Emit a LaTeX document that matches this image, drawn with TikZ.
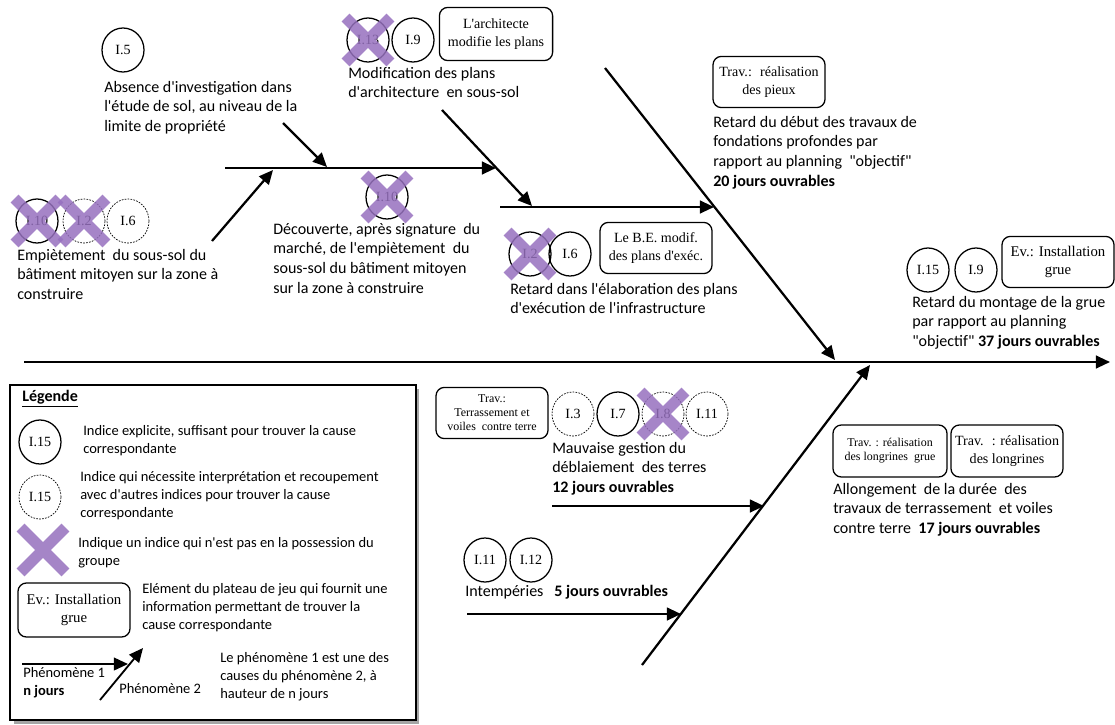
\documentclass[tikz,border=0pt]{standalone}
\usepackage{fontspec}
\setmainfont{Carlito}[Ligatures=TeXOff]
\newfontfamily\timesfont{Liberation Serif}
\usetikzlibrary{arrows.meta,shapes.geometric,shapes.misc}
\definecolor{crosspurple}{RGB}{150,112,190}

\begin{document}
\begin{tikzpicture}[x=0.025cm, y=-0.025cm,
        bone/.style={line width=1.6pt, -{Triangle[length=10pt, width=9pt]}},
        clue/.style={ellipse, draw, line width=0.9pt, minimum width=1.05cm, minimum height=1.1cm, inner sep=0pt, font=\timesfont\fontsize{10}{12}\selectfont},
        hint/.style={clue, line width=0.5pt, dash pattern=on 1.2pt off 0.9pt},
        missing/.style={cross out, draw=crosspurple, draw opacity=0.85, line width=8pt, minimum size=0.84cm, inner sep=0pt},
        card/.style={draw, rounded corners=6pt, line width=0.9pt, align=center, inner sep=1pt, minimum width=2.8cm, minimum height=1.28cm, font=\timesfont\fontsize{10}{12.5}\selectfont},
        small card/.style={card, font=\timesfont\fontsize{8.5}{10}\selectfont},
        cause/.style={align=left, anchor=north west, inner sep=0pt, font=\fontsize{11.4}{13.9}\selectfont},
        legend text/.style={align=left, anchor=north west, inner sep=0pt, font=\fontsize{10.3}{12.8}\selectfont}]

        \useasboundingbox (0, 0) rectangle (1115, 724);

        \coordinate (spine-s) at (24, 362);
        \coordinate (spine-e) at (1110, 362);
        \coordinate (up-s) at (605, 68);
        \coordinate (up-e) at (835, 360);
        \coordinate (low-s) at (642, 665);
        \coordinate (low-e) at (870, 365);
        \coordinate (ul-s) at (225, 168);
        \coordinate (ul-e) at (496, 168);
        \coordinate (abs-s) at (283, 123);
        \coordinate (abs-e) at (327, 167);
        \coordinate (emp-s) at (212, 241);
        \coordinate (emp-e) at (273, 170);
        \coordinate (mod-s) at (442, 110);
        \coordinate (mod-e) at (532, 206);
        \coordinate (ret-s) at (500, 207);
        \coordinate (ret-e) at (714, 207);
        \coordinate (mau-s) at (552, 506);
        \coordinate (mau-e) at (764, 506);
        \coordinate (int-s) at (467, 614);
        \coordinate (int-e) at (681, 614);

        \node (a-1) at (123, 50) [clue] {I.5};
        \node (a-t) at (104, 81) [cause] {Absence d'investigation dans\\l'étude de sol, au niveau de la\\limite de propriété};

        \node (b-1) at (37, 221) [clue] {I.10};
        \node (b-2) at (84, 221) [hint] {I.2};
        \node (b-3) at (128, 221) [hint] {I.6};
        \node (b-x1) at (b-1) [missing] {};
        \node (b-x2) at (b-2) [missing] {};
        \node (b-t) at (17, 249) [cause] {Empiètement \ du sous-sol du\\bâtiment mitoyen sur la zone à\\construire};

        \node (c-1) at (368, 40) [clue] {I.13};
        \node (c-2) at (413, 40) [clue] {I.9};
        \node (c-x1) at (c-1) [missing] {};
        \node (c-b) at (496, 34) [card, minimum width=2.83cm, minimum height=1.33cm] {L'architecte\\modifie les plans};
        \node (c-t) at (348, 67) [cause] {Modification des plans\\d'architecture \ en sous-sol};

        \node (d-1) at (387, 197) [clue] {I.10};
        \node (d-x1) at (d-1) [missing] {};
        \node (d-t) at (273, 223) [cause] {Découverte, après signature \ du\\marché, de l'empiètement \ du\\sous-sol du bâtiment mitoyen\\sur la zone à construire};

        \node (e-1) at (530, 254) [clue] {I.2};
        \node (e-2) at (570, 254) [clue] {I.6};
        \node (e-x1) at (e-1) [missing] {};
        \node (e-b) at (656, 248) [card] {Le B.E. modif.\\des plans d'exéc.};
        \node (e-t) at (510, 283) [cause] {Retard dans l'élaboration des plans\\d'exécution de l'infrastructure};

        \node (f-b) at (769, 82) [card] {Trav.: \ réalisation\\des pieux};
        \node (f-t) at (713, 116) [cause] {Retard du début des travaux de\\fondations profondes par\\rapport au planning \ "objectif"\\\textbf{20 jours ouvrables}};

        \node (g-1) at (928, 270) [clue] {I.15};
        \node (g-2) at (976, 270) [clue] {I.9};
        \node (g-b) at (1058, 262) [card, font=\timesfont\fontsize{10.5}{12.5}\selectfont] {Ev.: Installation\\grue};
        \node (g-t) at (912, 296) [cause] {Retard du montage de la grue\\par rapport au planning\\"objectif" \textbf{37 jours ouvrables}};

        \node (h-b) at (492, 413) [small card] {Trav.:\\Terrassement et\\voiles \ contre terre};
        \node (h-1) at (573, 414) [hint] {I.3};
        \node (h-2) at (618, 414) [clue] {I.7};
        \node (h-3) at (663, 414) [hint] {I.8};
        \node (h-4) at (707, 414) [hint] {I.11};
        \node (h-x3) at (h-3) [missing] {};
        \node (h-t) at (552, 442) [cause] {Mauvaise gestion du\\déblaiement \ des terres\\\textbf{12 jours ouvrables}};

        \node (i-b1) at (890, 451) [small card, minimum width=2.85cm, minimum height=1.3cm] {Trav. : réalisation\\des longrines \ grue};
        \node (i-b2) at (1007, 451) [card, minimum height=1.3cm] {Trav. \ : réalisation\\des longrines};
        \node (i-t) at (833, 483) [cause] {Allongement \ de la durée \ des\\travaux de terrassement \ et voiles\\contre terre \ \textbf{17 jours ouvrables}};

        \node (j-1) at (485, 560) [clue] {I.11};
        \node (j-2) at (531, 560) [clue] {I.12};
        \node (j-t) at (465, 585) [cause] {Intempéries \ \ \textbf{5 jours ouvrables}};

        \draw[bone] (spine-s) -- (spine-e);
        \draw[bone] (up-s) -- (up-e);
        \draw[bone] (low-s) -- (low-e);
        \draw[bone] (ul-s) -- (ul-e);
        \draw[bone] (abs-s) -- (abs-e);
        \draw[bone] (emp-s) -- (emp-e);
        \draw[bone] (mod-s) -- (mod-e);
        \draw[bone] (ret-s) -- (ret-e);
        \draw[bone] (mau-s) -- (mau-e);
        \draw[bone] (int-s) -- (int-e);

        \fill[black!35] (14, 389) rectangle (419, 724);
        \filldraw[fill=white, line width=1.4pt] (10, 385) rectangle (416, 720);
        \node (l-title) at (22, 390) [legend text, font=\fontsize{11.4}{13.9}\selectfont] {\underline{\textbf{Légende}}};
        \node (l-1) at (40, 442) [clue] {I.15};
        \node (l-1t) at (83, 425) [legend text] {Indice explicite, suffisant pour trouver la cause\\correspondante};
        \node (l-2) at (40, 497) [hint] {I.15};
        \node (l-2t) at (80, 471) [legend text] {Indice qui nécessite interprétation et recoupement\\avec d'autres indices pour trouver la cause\\correspondante};
        \node (l-3) at (43, 550) [missing] {};
        \node (l-3t) at (78, 537) [legend text] {Indique un indice qui n'est pas en la possession du\\groupe};
        \node (l-4) at (74, 610) [card, minimum width=2.8cm, minimum height=1.35cm, font=\timesfont\fontsize{10.5}{12.5}\selectfont] {Ev.: Installation\\grue};
        \node (l-4t) at (142, 583) [legend text] {Elément du plateau de jeu qui fournit une\\information permettant de trouver la\\cause correspondante};
        \coordinate (ph1-s) at (22, 664);
        \coordinate (ph1-e) at (128, 664);
        \coordinate (ph2-s) at (100, 700);
        \coordinate (ph2-e) at (143, 648);
        \draw[bone, line width=1.3pt] (ph1-s) -- (ph1-e);
        \draw[bone, line width=1.3pt] (ph2-s) -- (ph2-e);
        \node (l-5a) at (23, 667) [legend text] {Phénomène 1\\\textbf{n jours}};
        \node (l-5b) at (119, 683) [legend text] {Phénomène 2};
        \node (l-5t) at (220, 652) [legend text] {Le phénomène 1 est une des\\causes du phénomène 2, à\\hauteur de n jours};

    \end{tikzpicture}
\end{document}
